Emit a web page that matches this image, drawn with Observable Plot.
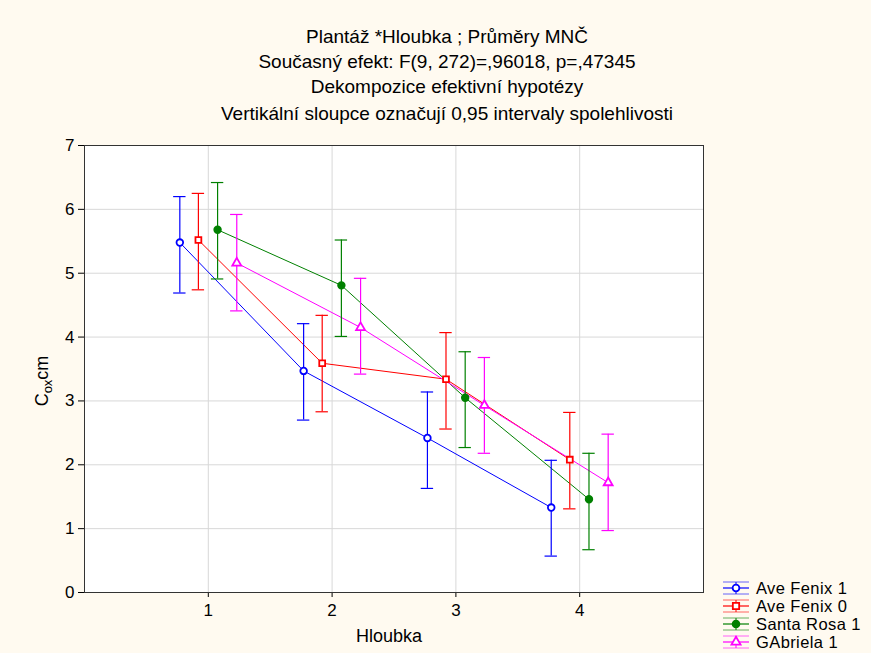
<!DOCTYPE html>
<html><head><meta charset="utf-8">
<script src="https://cdn.jsdelivr.net/npm/d3@7"></script>
<script src="https://cdn.jsdelivr.net/npm/@observablehq/plot@0.6"></script>
<style>
html,body{margin:0;padding:0;background:#fffaf0;}
#wrap{position:relative;width:871px;height:653px;background:#fffaf0;font-family:"Liberation Sans",Arial,sans-serif;color:#000;overflow:hidden;}
#title{position:absolute;left:0;top:0;width:894px;height:130px;}
#title div{position:absolute;left:0;width:894px;text-align:center;font-size:19px;line-height:22px;}
#chart{position:absolute;left:0;top:130px;}
#legend{position:absolute;left:721px;top:579px;font-size:16.5px;}
#legend .row{position:absolute;left:0;height:18px;white-space:nowrap;}
#legend svg{position:absolute;left:0;top:0;}
#legend span{position:absolute;left:35px;top:0;line-height:18px;height:18px;letter-spacing:0.4px;}
</style></head>
<body>
<div id="wrap">
  <div id="title">
    <div style="top:26px">Plantáž *Hloubka ; Průměry MNČ</div>
    <div style="top:51px">Současný efekt: F(9, 272)=,96018, p=,47345</div>
    <div style="top:76px">Dekompozice efektivní hypotézy</div>
    <div style="top:103px">Vertikální sloupce označují 0,95 intervaly spolehlivosti</div>
  </div>
  <div id="chart"></div>
  <div id="legend"></div>
</div>
<script>
const depths = [1, 2, 3, 4];
const seriesNames = ["Ave Fenix 1", "Ave Fenix 0", "Santa Rosa 1", "GAbriela 1"];
const seriesColors = ["#0000ff", "#ff0000", "#008000", "#ff00ff"];
const seriesSymbols = ["circle", "square", "circle", "triangle"];
const seriesFilled = [false, false, true, false];
const dodge = [-0.23, -0.08, 0.075, 0.23];

const aveFenix1Mean = [5.48, 3.47, 2.42, 1.33];
const aveFenix1Low  = [4.69, 2.70, 1.63, 0.57];
const aveFenix1High = [6.20, 4.21, 3.14, 2.07];

const aveFenix0Mean = [5.52, 3.59, 3.34, 2.08];
const aveFenix0Low  = [4.74, 2.83, 2.56, 1.31];
const aveFenix0High = [6.25, 4.34, 4.07, 2.82];

const santaRosa1Mean = [5.68, 4.81, 3.05, 1.46];
const santaRosa1Low  = [4.91, 4.01, 2.27, 0.67];
const santaRosa1High = [6.42, 5.52, 3.77, 2.18];

const gabriela1Mean = [5.16, 4.15, 2.93, 1.72];
const gabriela1Low  = [4.41, 3.42, 2.18, 0.97];
const gabriela1High = [5.92, 4.92, 3.68, 2.48];

const yTicks = [0, 1, 2, 3, 4, 5, 6, 7];
const xTicks = [1, 2, 3, 4];

const means = [aveFenix1Mean, aveFenix0Mean, santaRosa1Mean, gabriela1Mean];
const lows = [aveFenix1Low, aveFenix0Low, santaRosa1Low, gabriela1Low];
const highs = [aveFenix1High, aveFenix0High, santaRosa1High, gabriela1High];

const rows = [];
seriesNames.forEach((s, i) => {
  depths.forEach((d, j) => {
    rows.push({
      series: s, depth: d, x: d + dodge[i],
      mean: means[i][j], lo: lows[i][j], hi: highs[i][j],
      color: seriesColors[i],
      fill: seriesFilled[i] ? seriesColors[i] : "white"
    });
  });
});

const capHalf = 0.05;

const plot = Plot.plot({
  width: 871,
  height: 523,
  marginLeft: 84,
  marginRight: 168,
  marginTop: 15,
  marginBottom: 61,
  style: {background: "transparent", fontFamily: "'Liberation Sans', Arial, sans-serif", fontSize: "17px", color: "#000"},
  x: {domain: [0, 5], ticks: xTicks, tickSize: 5, tickPadding: 6, label: null, tickFormat: d => String(d)},
  y: {domain: [0, 7], ticks: yTicks, tickSize: 6, tickPadding: 4, label: null, tickFormat: d => String(d)},
  color: {type: "identity"},
  symbol: {domain: seriesNames, range: seriesSymbols},
  marks: [
    Plot.frame({fill: "white", stroke: null}),
    Plot.gridY(yTicks.filter(t => t > 0 && t < 7), {stroke: "#d8d8d8", strokeOpacity: 1}),
    Plot.gridX(xTicks, {stroke: "#d8d8d8", strokeOpacity: 1}),
    Plot.line(rows, {x: "x", y: "mean", z: "series", stroke: "color", strokeWidth: 1}),
    Plot.ruleX(rows, {x: "x", y1: "lo", y2: "hi", stroke: "color", strokeWidth: 1.2}),
    Plot.ruleY(rows, {y: "hi", x1: d => d.x - capHalf, x2: d => d.x + capHalf, stroke: "color", strokeWidth: 1.2}),
    Plot.ruleY(rows, {y: "lo", x1: d => d.x - capHalf, x2: d => d.x + capHalf, stroke: "color", strokeWidth: 1.2}),
    Plot.dot(rows, {x: "x", y: "mean", symbol: "series", stroke: "color", fill: "fill", r: 3.3, strokeWidth: 1.8}),
    Plot.frame({stroke: "#333", strokeWidth: 1})
  ]
});
document.getElementById("chart").appendChild(plot);

// axis titles
const svg = d3.select(plot);
svg.append("text")
  .attr("x", 389).attr("y", 512)
  .attr("text-anchor", "middle")
  .attr("font-size", 18)
  .attr("font-family", "'Liberation Sans', Arial, sans-serif")
  .text("Hloubka");
const yl = svg.append("text")
  .attr("transform", "translate(48,251) rotate(-90)")
  .attr("text-anchor", "middle")
  .attr("font-size", 18)
  .attr("font-family", "'Liberation Sans', Arial, sans-serif");
yl.append("tspan").text("C");
yl.append("tspan").attr("font-size", 13).attr("dy", 4).text("ox");
yl.append("tspan").attr("dy", -4).text("cm");

// legend
const legend = d3.select("#legend");
const symPaths = {
  circle: d3.symbol(d3.symbolCircle, 36)(),
  square: d3.symbol(d3.symbolSquare, 40)(),
  triangle: d3.symbol(d3.symbolTriangle, 36)()
};
seriesNames.forEach((s, i) => {
  const row = legend.append("div").attr("class", "row").style("top", (i * 18) + "px");
  const sv = row.append("svg").attr("width", 30).attr("height", 18);
  const c = seriesColors[i];
  sv.append("line").attr("x1", 2).attr("x2", 28).attr("y1", 3).attr("y2", 3).attr("stroke", c).attr("stroke-width", 1).attr("stroke-opacity", 0.6);
  sv.append("line").attr("x1", 2).attr("x2", 28).attr("y1", 15).attr("y2", 15).attr("stroke", c).attr("stroke-width", 1).attr("stroke-opacity", 0.6);
  sv.append("line").attr("x1", 2).attr("x2", 28).attr("y1", 9).attr("y2", 9).attr("stroke", c).attr("stroke-width", 1.2);
  sv.append("line").attr("x1", 15).attr("x2", 15).attr("y1", 3).attr("y2", 15).attr("stroke", c).attr("stroke-width", 1);
  sv.append("path").attr("d", symPaths[seriesSymbols[i]]).attr("transform", "translate(15,9)")
    .attr("fill", seriesFilled[i] ? c : "white").attr("stroke", c).attr("stroke-width", 1.8);
  row.append("span").text(s);
});
</script>
</body></html>
